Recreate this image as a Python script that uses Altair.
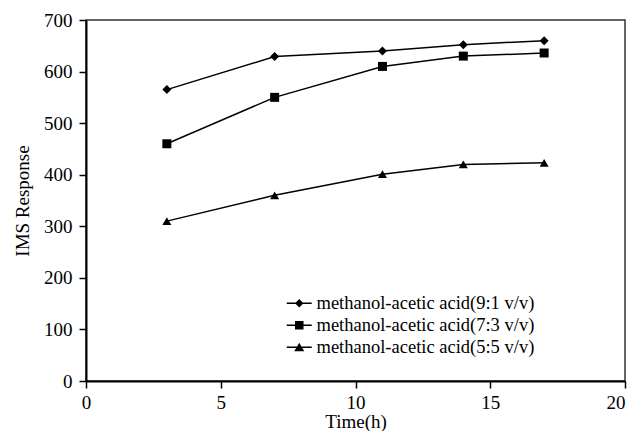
import altair as alt
import pandas as pd

time_h = [3, 7, 11, 14, 17]
series_names = [
    "methanol-acetic acid(9:1 v/v)",
    "methanol-acetic acid(7:3 v/v)",
    "methanol-acetic acid(5:5 v/v)",
]
resp_91 = [565, 629, 640, 652, 660]
resp_73 = [460, 550, 610, 630, 636]
resp_55 = [310, 360, 401, 420, 423]
x_ticks = [0, 5, 10, 15, 20]
y_ticks = [0, 100, 200, 300, 400, 500, 600, 700]

rows = []
for name, vals in zip(series_names, [resp_91, resp_73, resp_55]):
    for t, v in zip(time_h, vals):
        rows.append({"Time": t, "Response": v, "Series": name})
df = pd.DataFrame(rows)

FONT = "Liberation Serif"

x = alt.X("Time:Q", scale=alt.Scale(domain=[0, 20], nice=False),
          axis=alt.Axis(values=x_ticks, title="Time(h)",
                        titleBaseline="alphabetic", titleY=46,
                        labelAlign=alt.expr("datum.value == 20 ? 'right' : 'center'"),
                        labelFlush=False, labelPadding=5))
y = alt.Y("Response:Q", scale=alt.Scale(domain=[0, 700], nice=False),
          axis=alt.Axis(values=y_ticks, title="IMS Response", titlePadding=11,
                        labelPadding=7))

lines = alt.Chart(df).mark_line(color="black", strokeWidth=1.5).encode(
    x=x, y=y, detail="Series:N")

points = alt.Chart(df).mark_point(filled=True, color="black", size=81, opacity=1).encode(
    x=x, y=y,
    shape=alt.Shape("Series:N",
                    scale=alt.Scale(domain=series_names,
                                    range=["diamond", "square", "triangle-up"]),
                    legend=None))

stub = "M-2.5,-0.16H2.5V0.16H-2.5Z"
legend_paths = [
    stub + "M0,-0.85L0.85,0L0,0.85L-0.85,0Z",
    stub + "M-0.85,-0.85H0.85V0.85H-0.85Z",
    stub + "M0,-0.9L1,0.8L-1,0.8Z",
]

legend_layer = alt.Chart(df).mark_point(
    filled=True, color="black", size=100, opacity=0
).encode(
    x=x, y=y,
    shape=alt.Shape("Series:N",
                    scale=alt.Scale(domain=series_names, range=legend_paths),
                    legend=alt.Legend(
                        title=None, orient="none", legendX=204, legendY=274,
                        symbolSize=100, symbolOpacity=1,
                        symbolFillColor="black",
                        labelOffset=8, labelLimit=0,
                        labelFont=FONT, labelFontSize=18.5, labelColor="black",
                        rowPadding=3, padding=0)))

chart = alt.layer(lines, points, legend_layer).resolve_scale(shape="independent").properties(
    width=539, height=361,
    autosize=alt.AutoSizeParams(type="none"),
    padding={"left": 78, "top": 12, "right": 2, "bottom": 50},
).configure_view(
    stroke="#333", strokeWidth=1.5
).configure_axis(
    grid=False,
    labelFont=FONT, labelFontSize=19, labelColor="black",
    titleFont=FONT, titleFontSize=19, titleFontWeight="normal", titleColor="black",
    domainColor="black", domainWidth=2,
    tickColor="black", tickWidth=1.5, tickSize=7,
)

chart.save("out.html", embed_options={"renderer": "svg", "actions": False})
